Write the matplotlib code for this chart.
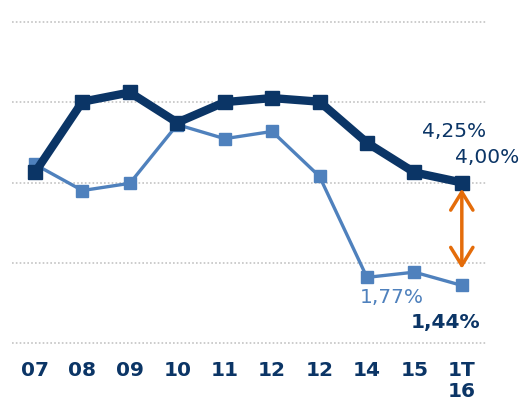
import matplotlib
matplotlib.use("Agg")
import matplotlib.pyplot as plt

# ----------------------------
# data
# ----------------------------
periods = ["07", "08", "09", "10", "11", "12", "12", "14", "15", "1T\n16"]
dark_vals = [4.25, 6.01, 6.24, 5.49, 6.00, 6.10, 6.01, 4.99, 4.25, 4.00]
light_vals = [4.45, 3.80, 3.98, 5.44, 5.09, 5.27, 4.15, 1.64, 1.77, 1.44]
grid_levels = [0, 2, 4, 6, 8]

navy = "#0b3566"
light = "#4f81bd"
orange = "#e46c0a"

fig = plt.figure(figsize=(5.30, 4.04), dpi=100)
W, H = 530, 404
ax = fig.add_axes([12 / W, 1 - 343.3 / H, (486 - 12) / W, (343.3 - 21.7) / H])

x = list(range(len(periods)))

# dotted grid
for g in grid_levels:
    ax.axhline(g, color="#c4c4c4", lw=1.2, ls=(0, (1, 1.3)), zorder=0, clip_on=False)

ax.plot(x, light_vals, color=light, lw=2.4, marker="s", ms=8, zorder=2)
ax.plot(x, dark_vals, color=navy, lw=6, marker="s", ms=9.5, zorder=3)

# value labels
lbl = dict(textcoords="offset pixels", ha="center", va="center", fontsize=14.5)
ax.annotate("4,25%", (x[8], dark_vals[8]), xytext=(40, 41), color=navy, **lbl)
ax.annotate("4,00%", (x[9], dark_vals[9]), xytext=(25, 25), color=navy, **lbl)
ax.annotate("1,77%", (x[8], light_vals[8]), xytext=(-23, -25), color=light, **lbl)
ax.annotate("1,44%", (x[9], light_vals[9]), xytext=(-16, -37), color=navy,
            fontweight="bold", **lbl)

# gap arrow
ax.annotate("", xy=(x[9], light_vals[9]), xytext=(x[9], dark_vals[9]),
            arrowprops=dict(arrowstyle="<->,head_length=0.65,head_width=0.4",
                            color=orange, lw=2.5, mutation_scale=20,
                            shrinkA=4.5, shrinkB=12), zorder=4)

ax.set_xlim(-0.485, 9.51)
ax.set_ylim(0, 8)
ax.set_xticks(x)
ax.set_xticklabels(periods, color=navy, fontsize=14.5, fontweight="bold", linespacing=1.1)
ax.tick_params(axis="x", length=0, pad=13)
ax.set_yticks([])
for s in ax.spines.values():
    s.set_visible(False)
ax.patch.set_alpha(0)

fig.savefig("out.png", dpi=100)
